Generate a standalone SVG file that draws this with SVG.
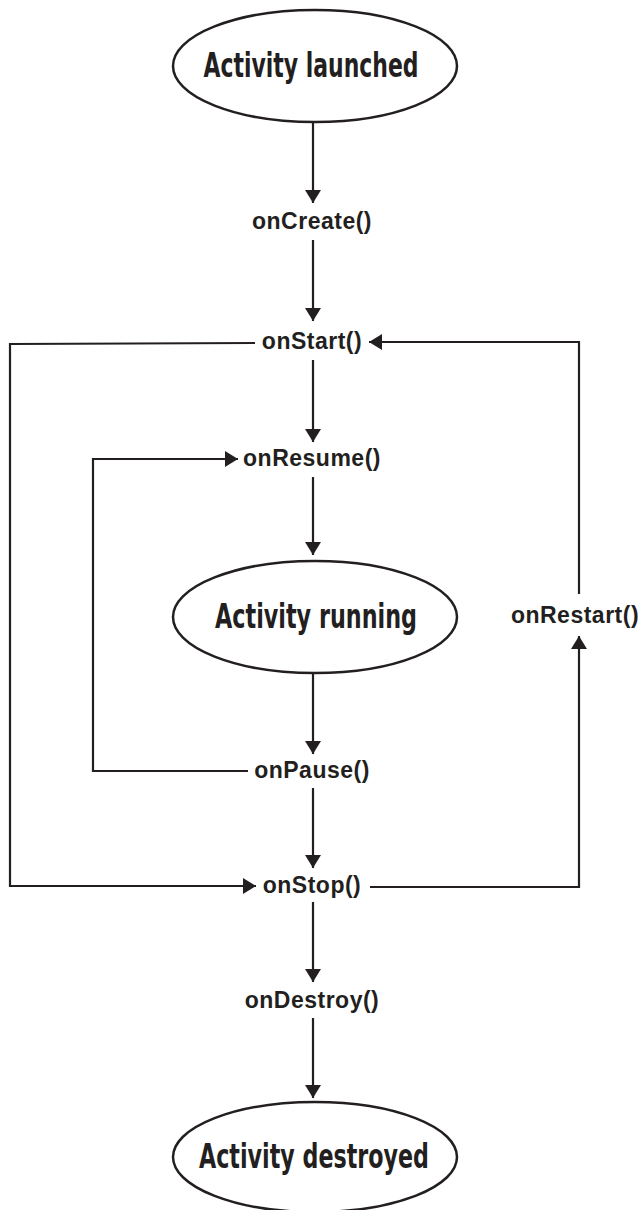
<svg xmlns="http://www.w3.org/2000/svg" width="641" height="1210" viewBox="0 0 641 1210">
<style>
.bg{fill:#ffffff}
.state{fill:#ffffff;stroke:#231f20;stroke-width:2.5}
.stitle{font-family:"DejaVu Sans Condensed","DejaVu Sans",sans-serif;font-weight:bold;font-size:33px;fill:#231f20;text-anchor:middle}
.lbl{font-family:"Liberation Sans",Arial,sans-serif;font-weight:bold;font-size:23px;letter-spacing:0.5px;fill:#231f20;text-anchor:middle}
.conn{fill:none;stroke:#231f20;stroke-width:2.2}
</style>
<defs>
<marker id="ah" viewBox="0 0 13 16" refX="13" refY="8" markerWidth="13" markerHeight="16" markerUnits="userSpaceOnUse" orient="auto">
<path d="M0,0 L13,8 L0,16 Z" fill="#231f20"/>
</marker>
</defs>
<rect class="bg" x="0" y="0" width="641" height="1210"/>
<g id="connectors">
<line class="conn" x1="313" y1="122" x2="313" y2="203" marker-end="url(#ah)"/>
<line class="conn" x1="313" y1="240" x2="313" y2="321" marker-end="url(#ah)"/>
<line class="conn" x1="313" y1="360" x2="313" y2="442" marker-end="url(#ah)"/>
<line class="conn" x1="313" y1="477" x2="313" y2="555" marker-end="url(#ah)"/>
<line class="conn" x1="313" y1="673" x2="313" y2="754" marker-end="url(#ah)"/>
<line class="conn" x1="313" y1="788" x2="313" y2="868" marker-end="url(#ah)"/>
<line class="conn" x1="313" y1="902" x2="313" y2="982" marker-end="url(#ah)"/>
<line class="conn" x1="313" y1="1018" x2="313" y2="1098" marker-end="url(#ah)"/>
<polyline class="conn" points="255,343 10,344 10,886 256,886" marker-end="url(#ah)"/>
<polyline class="conn" points="248,771 93,771 93,459 238,459" marker-end="url(#ah)"/>
<polyline class="conn" points="370,887 579,887 579,636" marker-end="url(#ah)"/>
<polyline class="conn" points="579,594 579,342 369,342" marker-end="url(#ah)"/>
</g>
<g id="launched">
<ellipse class="state" cx="315" cy="66" rx="142" ry="56"/>
<text class="stitle" x="311" y="77" textLength="215" lengthAdjust="spacingAndGlyphs">Activity launched</text>
</g>
<g id="onCreate"><text class="lbl" x="312" y="229">onCreate()</text></g>
<g id="onStart"><text class="lbl" x="312" y="349">onStart()</text></g>
<g id="onResume"><text class="lbl" x="312" y="466">onResume()</text></g>
<g id="running">
<ellipse class="state" cx="315" cy="617" rx="142" ry="56"/>
<text class="stitle" x="316" y="628" textLength="202" lengthAdjust="spacingAndGlyphs">Activity running</text>
</g>
<g id="onRestart"><text class="lbl" x="575" y="623">onRestart()</text></g>
<g id="onPause"><text class="lbl" x="312" y="778">onPause()</text></g>
<g id="onStop"><text class="lbl" x="312" y="893">onStop()</text></g>
<g id="onDestroy"><text class="lbl" x="312" y="1008">onDestroy()</text></g>
<g id="destroyed">
<ellipse class="state" cx="315" cy="1157" rx="142" ry="55"/>
<text class="stitle" x="314" y="1168" textLength="230" lengthAdjust="spacingAndGlyphs">Activity destroyed</text>
</g>
</svg>
